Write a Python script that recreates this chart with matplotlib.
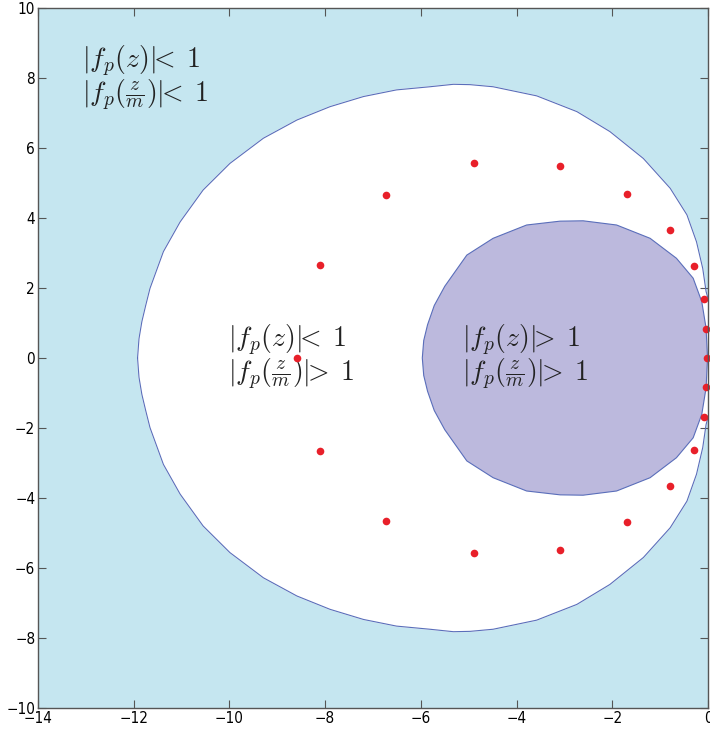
import numpy as np
import matplotlib
matplotlib.use("Agg")
import matplotlib.pyplot as plt

plt.rcParams.update({
    'mathtext.fontset': 'cm',
    'font.family': 'DejaVu Sans',
    'font.stretch': 'condensed',
    'font.size': 10,
})

# outer boundary (upper half), mirrored for y<0
outer_x = [-11.92, -11.89, -11.83, -11.75, -11.66, -11.38, -11.03, -10.55, -9.99, -9.29,
           -8.59, -7.90, -7.20, -6.51, -5.81, -5.32, -4.97, -4.49, -3.58, -2.74,
           -2.05, -1.35, -0.79, -0.44, -0.24, -0.11, -0.04, 0.02, 0.25, 0.40]
outer_y = [0.00, 0.55, 1.04, 1.50, 1.99, 3.04, 3.89, 4.80, 5.56, 6.28,
           6.80, 7.18, 7.47, 7.66, 7.75, 7.82, 7.81, 7.75, 7.49, 7.04,
           6.47, 5.70, 4.85, 4.09, 3.32, 2.56, 1.90, 1.60, 1.00, 0.00]

# inner (purple) boundary, upper half
inner_x = [-5.97, -5.94, -5.86, -5.72, -5.50, -5.04, -4.49, -3.79, -3.09, -2.61,
           -1.91, -1.21, -0.66, -0.31, -0.13, -0.04, -0.01]
inner_y = [0.00, 0.50, 0.95, 1.50, 2.05, 2.94, 3.42, 3.80, 3.91, 3.92,
           3.80, 3.42, 2.85, 2.28, 1.61, 0.85, 0.00]

# red points (upper half + real axis)
pts_x = [-8.10, -6.73, -4.88, -3.09, -1.69, -0.79, -0.30, -0.09, -0.04]
pts_y = [2.67, 4.66, 5.57, 5.49, 4.69, 3.65, 2.62, 1.69, 0.83]
real_pts = [-8.59, -0.03]

labels = [
    (-13.08, 8.29, r'$|f_p(z)|\!\!<\;1$'),
    (-13.08, 7.31, r'$|f_p(\frac{z}{m})|\!\!<\;1$'),
    (-10.03, 0.31, r'$|f_p(z)|\!\!<\;1$'),
    (-10.03, -0.66, r'$|f_p(\frac{z}{m})|\!\!>\;1$'),
    (-5.15, 0.31, r'$|f_p(z)|\!\!>\;1$'),
    (-5.15, -0.66, r'$|f_p(\frac{z}{m})|\!\!>\;1$'),
]


def closed(xs, ys):
    xs = np.array(xs)
    ys = np.array(ys)
    cx = np.concatenate([xs, xs[::-1][1:]])
    cy = np.concatenate([ys, -ys[::-1][1:]])
    return cx, cy


fig = plt.figure(figsize=(7.1, 7.36), dpi=100)
ax = fig.add_axes([38 / 710, 28 / 736, 670 / 710, 700 / 736])
ax.set_facecolor('#c5e6f0')

edge = '#5a6eba'
ox, oy = closed(outer_x, outer_y)
ax.fill(ox, oy, color='white', zorder=1)
ax.plot(ox, oy, color=edge, lw=0.8, zorder=2, solid_joinstyle='round')

ix, iy = closed(inner_x, inner_y)
ax.fill(ix, iy, facecolor='#bcb9dd', edgecolor=edge, lw=0.8, zorder=3, joinstyle='round')

dot = '#e8202a'
ax.plot(pts_x, pts_y, 'o', color=dot, ms=5.5, mec='none', zorder=5, clip_on=False)
ax.plot(pts_x, [-v for v in pts_y], 'o', color=dot, ms=5.5, mec='none', zorder=5, clip_on=False)
ax.plot(real_pts, [0, 0], 'o', color=dot, ms=5.5, mec='none', zorder=5, clip_on=False)

for x, y, s in labels:
    ax.text(x, y, s, fontsize=20, color='#222222', ha='left', va='baseline', zorder=4)

ax.set_xlim(-14, 0)
ax.set_ylim(-10, 10)
ax.set_xticks(np.arange(-14, 1, 2))
ax.set_yticks(np.arange(-10, 11, 2))
ax.set_xticklabels([f'\u2212{abs(v)}' if v < 0 else str(v) for v in range(-14, 1, 2)])
ax.set_yticklabels([f'\u2212{abs(v)}' if v < 0 else str(v) for v in range(-10, 11, 2)])
ax.tick_params(direction='in', length=6, width=0.8, color='#555555',
               top=True, right=True, labelsize=11, pad=2)
for s in ax.spines.values():
    s.set_color('#555555')
    s.set_linewidth(1.0)
    s.set_zorder(6)

fig.savefig('out.png', dpi=100)
